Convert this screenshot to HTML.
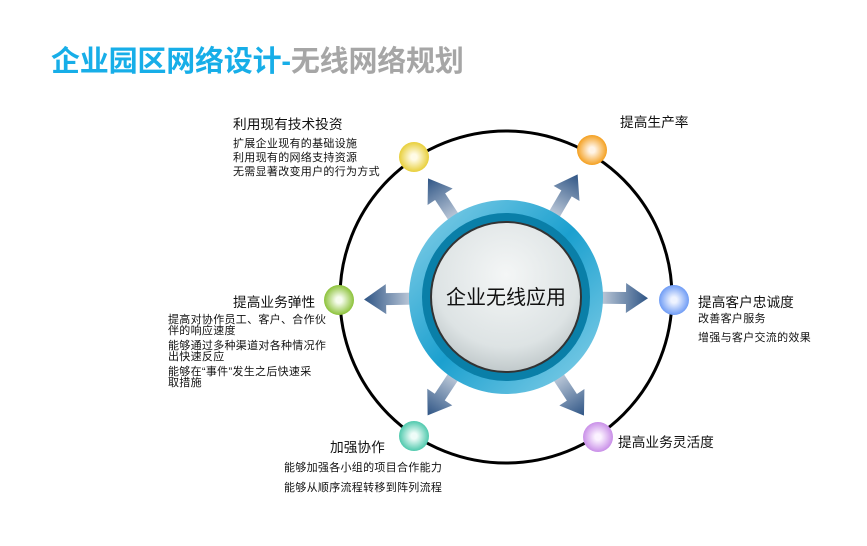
<!DOCTYPE html>
<html><head><meta charset="utf-8"><style>
body{margin:0;width:867px;height:546px;background:#fff;overflow:hidden;position:relative;font-family:"Liberation Sans","Noto Sans CJK SC",sans-serif;color:#111}
.t{position:absolute;white-space:nowrap}
.h{font-size:13.7px}
.s{font-size:11px;letter-spacing:0.3px;line-height:14px}
</style></head><body>
<div class="t" style="left:51px;top:38px;font-size:29px;font-weight:bold;letter-spacing:-0.2px"><span style="color:#17aee8">企业园区网络设计-</span><span style="color:#a6a6a6">无线网络规划</span></div>
<svg width="867" height="546" style="position:absolute;left:0;top:0">
<defs>
<linearGradient id="ar" x1="0" x2="1" y1="0" y2="0"><stop offset="0" stop-color="#c5d0de"/><stop offset="1" stop-color="#2f5585"/></linearGradient>
<linearGradient id="ring" x1="0" y1="0" x2="1" y2="1"><stop offset="0" stop-color="#8dd3ea"/><stop offset="0.5" stop-color="#1ba0cf"/><stop offset="1" stop-color="#8dd3ea"/></linearGradient>
<radialGradient id="inner" cx="0.5" cy="0.35" r="0.7"><stop offset="0" stop-color="#f4f6f6"/><stop offset="0.7" stop-color="#dde3e4"/><stop offset="1" stop-color="#b9c2c4"/></radialGradient>
<radialGradient id="gy" cx="0.5" cy="0.5" r="0.5"><stop offset="0.2" stop-color="#fffbe6"/><stop offset="1" stop-color="#e8cf3a"/></radialGradient>
<radialGradient id="go" cx="0.5" cy="0.5" r="0.5"><stop offset="0.2" stop-color="#fff4e6"/><stop offset="1" stop-color="#f4a020"/></radialGradient>
<radialGradient id="gb" cx="0.5" cy="0.5" r="0.5"><stop offset="0.2" stop-color="#eef3ff"/><stop offset="1" stop-color="#6f9cf5"/></radialGradient>
<radialGradient id="gp" cx="0.5" cy="0.5" r="0.5"><stop offset="0.2" stop-color="#fbf2ff"/><stop offset="1" stop-color="#c98fe8"/></radialGradient>
<radialGradient id="gt" cx="0.5" cy="0.5" r="0.5"><stop offset="0.2" stop-color="#eefcf8"/><stop offset="1" stop-color="#4fc9ad"/></radialGradient>
<radialGradient id="gg" cx="0.5" cy="0.5" r="0.5"><stop offset="0.2" stop-color="#f6fcee"/><stop offset="1" stop-color="#8cc23a"/></radialGradient>
<g id="arw"><polygon points="92,-6 120,-6 120,-15 142,0 120,15 120,6 92,6" fill="url(#ar)"/></g>
</defs>
<circle cx="506" cy="297" r="166" fill="none" stroke="#000" stroke-width="3"/>
<g transform="translate(506,297)">
<use href="#arw" transform="rotate(-123.3)"/>
<use href="#arw" transform="rotate(-59.7)"/>
<use href="#arw" transform="rotate(0.5)"/>
<use href="#arw" transform="rotate(56.7)"/>
<use href="#arw" transform="rotate(123.5)"/>
<use href="#arw" transform="rotate(179)"/>
</g>
<circle cx="506" cy="297" r="97" fill="url(#ring)"/>
<circle cx="506" cy="297" r="84" fill="#0a7fa8"/>
<circle cx="506" cy="297" r="76" fill="#333"/>
<circle cx="506" cy="297" r="74" fill="url(#inner)"/>
<text x="506" y="304" text-anchor="middle" font-size="20" font-family="Liberation Sans, Noto Sans CJK SC, sans-serif" fill="#111">企业无线应用</text>
<circle cx="414" cy="157" r="15" fill="url(#gy)"/>
<circle cx="592" cy="150" r="15" fill="url(#go)"/>
<circle cx="674" cy="300" r="15" fill="url(#gb)"/>
<circle cx="598" cy="437" r="15" fill="url(#gp)"/>
<circle cx="414" cy="436" r="15" fill="url(#gt)"/>
<circle cx="339" cy="300" r="15" fill="url(#gg)"/>
</svg>
<div class="t h" style="left:233px;top:113px">利用现有技术投资</div>
<div class="t s" style="left:233px;top:137px">扩展企业现有的基础设施<br>利用现有的网络支持资源<br>无需显著改变用户的行为方式</div>
<div class="t h" style="left:620px;top:111px">提高生产率</div>
<div class="t h" style="left:698px;top:291px">提高客户忠诚度</div>
<div class="t s" style="left:698px;top:310px;line-height:19px">改善客户服务<br>增强与客户交流的效果</div>
<div class="t h" style="left:618px;top:431px">提高业务灵活度</div>
<div class="t h" style="left:330px;top:436px">加强协作</div>
<div class="t s" style="left:284px;top:458px;line-height:20px">能够加强各小组的项目合作能力<br>能够从顺序流程转移到阵列流程</div>
<div class="t h" style="left:233px;top:291px">提高业务弹性</div>
<div class="t s" style="left:168px;top:315px;line-height:11px">提高对协作员工、客户、合作伙<br>伴的响应速度</div>
<div class="t s" style="left:168px;top:341px;line-height:11px">能够通过多种渠道对各种情况作<br>出快速反应</div>
<div class="t s" style="left:168px;top:367px;line-height:11px">能够在“事件”发生之后快速采<br>取措施</div>
</body></html>
